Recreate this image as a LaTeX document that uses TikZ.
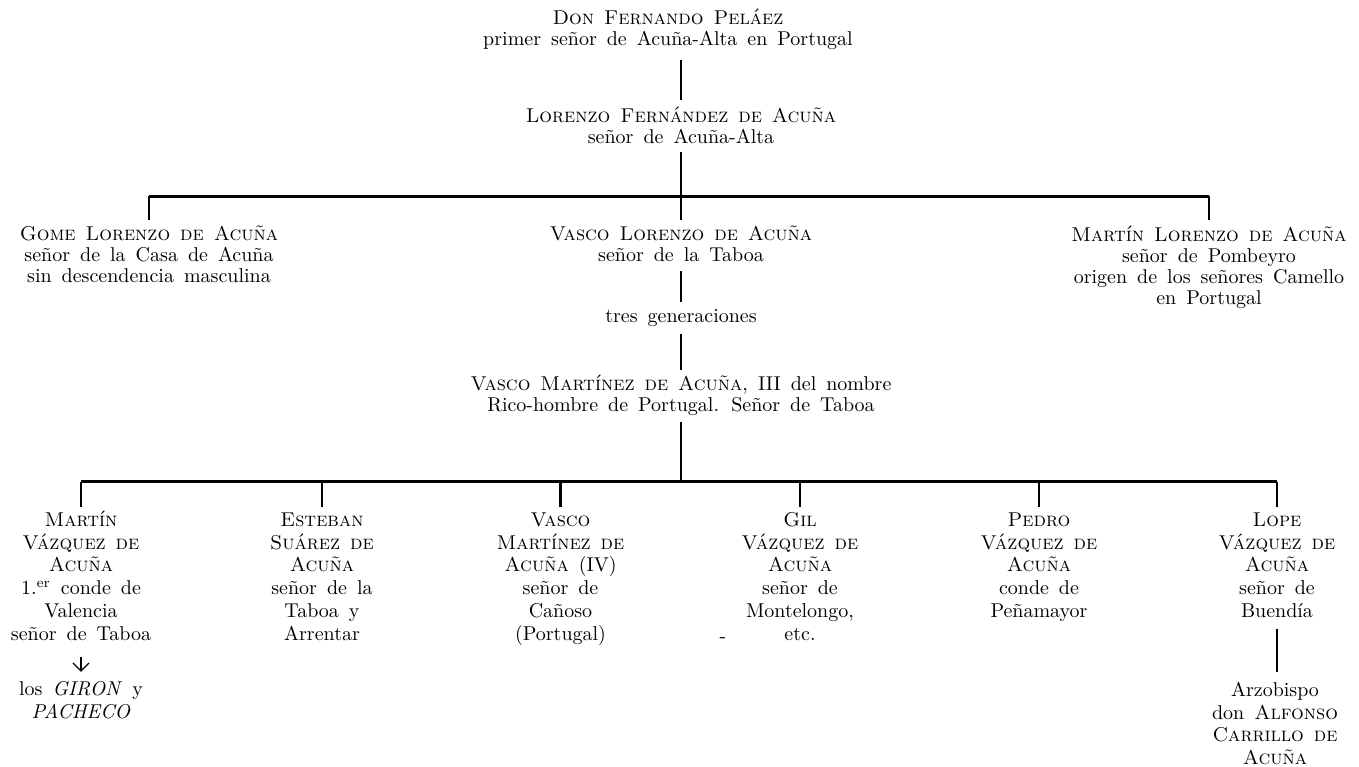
\documentclass[tikz,border=0pt]{standalone}
\usepackage{fontspec}
\usetikzlibrary{arrows.meta}
\tikzset{
  upper/.style={anchor=north, inner sep=0pt, align=center,
    font={\fontsize{10}{10.5}\selectfont\spaceskip=.5em plus .1em\relax\lineskiplimit=-10pt\relax}},
  lower/.style={anchor=north, inner sep=0pt, align=center,
    font={\fontsize{10}{11.4}\selectfont\spaceskip=.5em plus .1em\relax\lineskiplimit=-10pt\relax}},
  link/.style={line width=1.1pt},
  barline/.style={line width=1.5pt},
  descent/.style={line width=0.6pt, -{Straight Barb[length=4pt,width=8pt]}},
}
\begin{document}
\begin{tikzpicture}[x=0.5pt,y=-0.5pt]
\useasboundingbox (0,0) rectangle (1359,766);

% generations 1-2
\node[upper] (fern) at (668,8.3) {\strut\textsc{Don Fernando Peláez}\\primer señor de Acuña-Alta en Portugal\strut};
\node[upper] (lor) at (681,106.3) {\strut\textsc{Lorenzo Fernández de Acuña}\\señor de Acuña-Alta\strut};

% generation 3
\node[upper] (gome) at (149,225.3) {\strut\textsc{Gome Lorenzo de Acuña}\\señor de la Casa de Acuña\\sin descendencia masculina\strut};
\node[upper] (vasco1) at (681,225.3) {\strut\textsc{Vasco Lorenzo de Acuña}\\señor de la Taboa\strut};
\node[upper] (martinl) at (1209,225.3) {\strut\textsc{Martín Lorenzo de Acuña}\\señor de Pombeyro\\origen de los señores Camello\\en Portugal\strut};

\node[upper] (tres) at (681,307.3) {\strut tres generaciones\strut};
\node[upper] (vascom) at (681,374.3) {\strut\textsc{Vasco Martínez de Acuña}, III del nombre\\Rico-hombre de Portugal. Señor de Taboa\strut};

% last generation
\node[lower] (martin) at (81,510) {\strut\textsc{Martín}\\\textsc{Vázquez de}\\\textsc{Acuña}\\1.\textsuperscript{er} conde de\\Valencia\\señor de Taboa\strut};
\node[lower] (esteban) at (322,510) {\strut\textsc{Esteban}\\\textsc{Suárez de}\\\textsc{Acuña}\\señor de la\\Taboa y\\Arrentar\strut};
\node[lower] (vascoiv) at (560.5,510) {\strut\textsc{Vasco}\\\textsc{Martínez de}\\\textsc{Acuña} (IV)\\señor de\\Cañoso\\(Portugal)\strut};
\node[lower] (gil) at (800,510) {\strut\textsc{Gil}\\\textsc{Vázquez de}\\\textsc{Acuña}\\señor de\\Montelongo,\\etc.\strut};
\node[lower] (pedro) at (1039,510) {\strut\textsc{Pedro}\\\textsc{Vázquez de}\\\textsc{Acuña}\\conde de\\Peñamayor\strut};
\node[lower] (lope) at (1277,510) {\strut\textsc{Lope}\\\textsc{Vázquez de}\\\textsc{Acuña}\\señor de\\Buendía\strut};

\node[lower] (giron) at (81,679) {\strut los \textit{GIRON} y\\\textit{PACHECO}\strut};
\node[lower] (arz) at (1275,680) {\strut Arzobispo\\don \textsc{Alfonso}\\\textsc{Carrillo de}\\\textsc{Acuña}\strut};

\node[lower] (dash) at (723,626) {\strut-\strut};

% bar coordinates
\coordinate (b1) at (681,196);
\coordinate (b2) at (681,481.7);

% connectors
\draw[link, shorten <=3.85pt, shorten >=3.15pt] (lor.north |- fern.south) -- (lor.north);
\draw[link, shorten <=0.85pt] (lor.south) -- (b1);
\draw[barline] (gome.north |- b1) -- (martinl.north |- b1);
\foreach \n in {gome,vasco1,martinl}
  \draw[link, shorten >=2.65pt] (\n.north |- b1) -- (\n.north);
\draw[link, shorten <=1.35pt, shorten >=2.65pt] (vasco1.south) -- (tres.north);
\draw[link, shorten <=2.35pt, shorten >=2.15pt] (tres.south) -- (vascom.north);
\draw[link, shorten <=1.85pt] (vascom.south) -- (b2);
\draw[barline] (martin.north |- b2) -- (lope.north |- b2);
\foreach \n in {martin,esteban,vascoiv,gil,pedro,lope}
  \draw[link, shorten >=1.5pt] (\n.north |- b2) -- (\n.north);
\draw[descent, shorten <=4.9pt, shorten >=3.6pt] (martin.south) -- (giron.north);
\draw[link, shorten <=2.2pt, shorten >=4.2pt] (lope.south) -- (lope.south |- arz.north);
\end{tikzpicture}
\end{document}
